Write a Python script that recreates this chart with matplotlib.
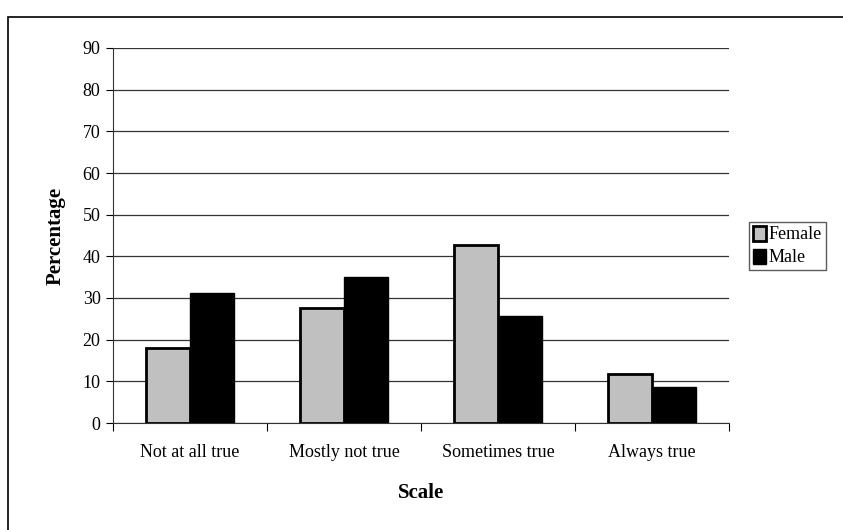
import numpy as np
import matplotlib
matplotlib.use("Agg")
from matplotlib import pyplot as plt
from matplotlib.patches import Rectangle

# ---------- Data ---------- #
categories = ["Not at all true", "Mostly not true", "Sometimes true", "Always true"]
female = [18.0, 27.7, 42.6, 11.8]
male = [31.2, 35.0, 25.6, 8.6]
y_ticks = list(range(0, 100, 10))

plt.rcParams['font.family'] = ['Liberation Serif', 'DejaVu Serif']

# ---------- Plotting ---------- #
fig = plt.figure(figsize=(8.43, 5.30), dpi=100)
ax = fig.add_axes([113 / 843, 1 - 423 / 530, (729 - 113) / 843, (423 - 48) / 530])

# outer chart frame (runs off the right and bottom edges)
fig.patches.append(Rectangle((8 / 843, -0.05), 1.1, 1.05 - 17 / 530, transform=fig.transFigure,
                             fill=False, edgecolor="black", linewidth=1.2, zorder=0))

x = np.arange(len(categories))
width = 0.285
ax.bar(x - width / 2, female, width, color="#c0c0c0", edgecolor="black", linewidth=2, label="Female", zorder=3)
ax.bar(x + width / 2, male, width, color="black", edgecolor="black", linewidth=1, label="Male", zorder=3)

ax.set_xlim(-0.5, len(categories) - 0.5)
ax.set_ylim(0, 90)
ax.set_yticks(y_ticks)
ax.tick_params(axis="y", labelsize=13, length=5, direction="out", pad=4)
ax.yaxis.grid(True, color="#333333", linewidth=0.9, zorder=0)

# categories sit between ticks at the boundaries
ax.set_xticks(np.arange(len(categories) + 1) - 0.5)
ax.set_xticklabels([])
ax.set_xticks(x, minor=True)
ax.set_xticklabels(categories, minor=True, fontsize=13)
ax.tick_params(axis="x", which="major", length=6, direction="out")
ax.tick_params(axis="x", which="minor", length=0, pad=15)

for side in ["top", "right"]:
    ax.spines[side].set_visible(False)
ax.spines["left"].set_color("#333333")
ax.spines["bottom"].set_color("#333333")

ax.set_xlabel("Scale", fontsize=15, fontweight="bold", labelpad=16)
ax.set_ylabel("Percentage", fontsize=15, fontweight="bold", labelpad=12)

leg = fig.legend(*ax.get_legend_handles_labels(), loc="center left",
                 bbox_to_anchor=(749 / 843, 1 - 246 / 530), fontsize=13, frameon=True,
                 fancybox=False, edgecolor="#333333", handlelength=0.75, handleheight=0.9,
                 handletextpad=0.15, borderpad=0.2, labelspacing=0.3, borderaxespad=0)
leg.get_frame().set_linewidth(1)

fig.savefig("out.png", dpi=100)
